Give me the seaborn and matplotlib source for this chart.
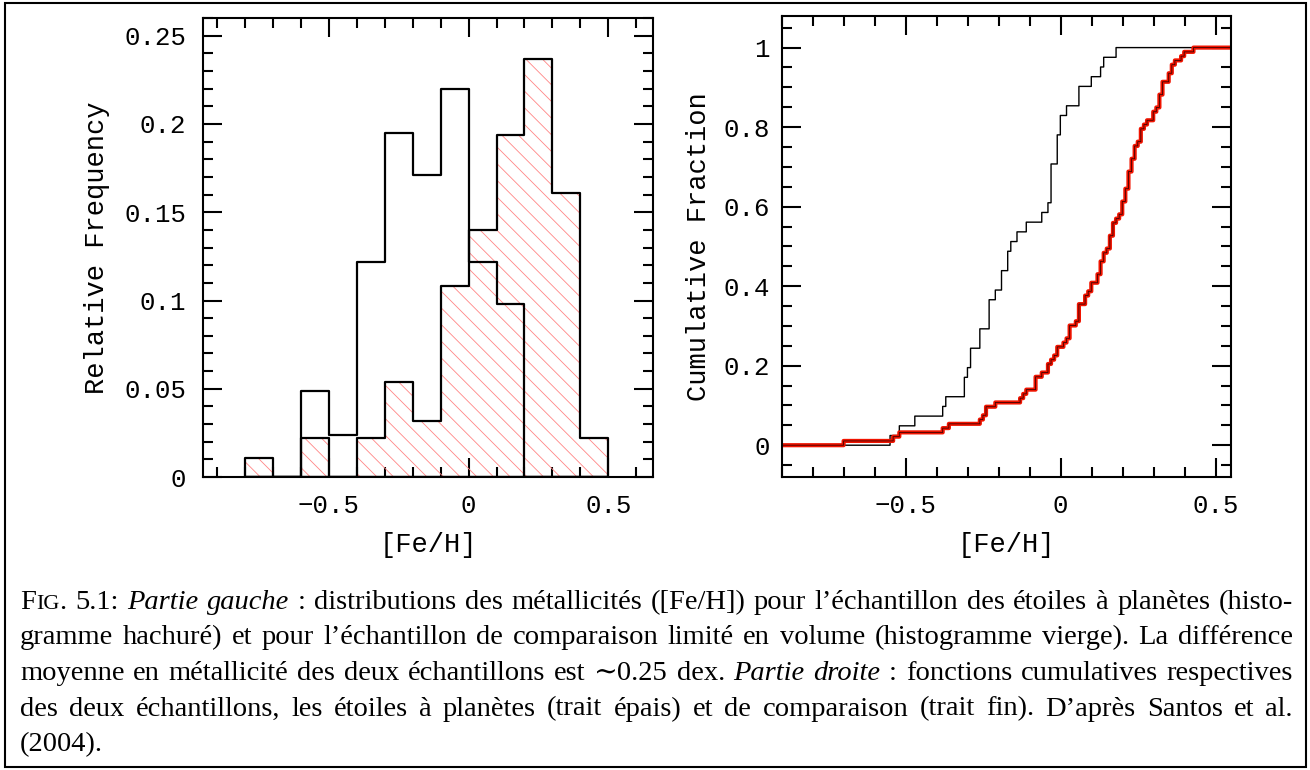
import numpy as np, matplotlib
matplotlib.use('Agg')
import matplotlib.pyplot as plt
import seaborn as sns
from matplotlib.ticker import MultipleLocator, FuncFormatter
from matplotlib.patches import Rectangle

sns.set_style('ticks')
plt.rcParams['font.family'] = ['Liberation Mono', 'DejaVu Sans Mono']
plt.rcParams.update({'text.color': 'black', 'axes.labelcolor': 'black',
                     'xtick.color': 'black', 'ytick.color': 'black',
                     'axes.edgecolor': 'black', 'axes.linewidth': 1.5,
                     'hatch.linewidth': 0.6})

# ── data ──────────────────────────────────────────────────────────────────────
# left panel: relative frequency per 0.1 dex bin of [Fe/H]
BIN_EDGES   = [-0.8, -0.7, -0.6, -0.5, -0.4, -0.3, -0.2, -0.1, 0.0, 0.1, 0.2, 0.3, 0.4, 0.5]
FREQ_PLANET = [0.011, 0.0, 0.022, 0.0, 0.022, 0.054, 0.032, 0.108, 0.140, 0.194, 0.237, 0.161, 0.022]
FREQ_COMPAR = [0.0, 0.0, 0.049, 0.024, 0.122, 0.195, 0.171, 0.220, 0.122, 0.098, 0.0, 0.0, 0.0]

# right panel: individual [Fe/H] values (steps of the cumulative curves)
FEH_COMPAR = [-0.55, -0.52, -0.47, -0.38, -0.37, -0.31, -0.31, -0.30, -0.29, -0.29,
              -0.26, -0.26, -0.23, -0.23, -0.23, -0.21, -0.19, -0.19, -0.17, -0.17,
              -0.16, -0.14, -0.11, -0.06, -0.04, -0.03, -0.03, -0.03, -0.03, -0.01,
              -0.01, -0.01, 0.00, 0.00, 0.02, 0.06, 0.06, 0.10, 0.13, 0.14, 0.18]
FEH_PLANET = [-0.70, -0.54, -0.52, -0.38, -0.36, -0.26, -0.25, -0.24, -0.24, -0.21,
              -0.13, -0.12, -0.11, -0.08, -0.08, -0.08, -0.06, -0.04, -0.04, -0.03,
              -0.02, -0.01, -0.01, 0.01, 0.02, 0.03, 0.03, 0.03, 0.05, 0.06,
              0.06, 0.06, 0.06, 0.08, 0.08, 0.09, 0.10, 0.10, 0.12, 0.12,
              0.13, 0.13, 0.13, 0.14, 0.14, 0.15, 0.16, 0.16, 0.16, 0.17,
              0.17, 0.17, 0.18, 0.19, 0.20, 0.20, 0.20, 0.21, 0.21, 0.21,
              0.22, 0.22, 0.22, 0.22, 0.23, 0.23, 0.23, 0.24, 0.24, 0.24,
              0.25, 0.26, 0.26, 0.26, 0.27, 0.28, 0.30, 0.30, 0.31, 0.32,
              0.32, 0.32, 0.33, 0.33, 0.33, 0.35, 0.35, 0.36, 0.36, 0.37,
              0.39, 0.40, 0.43]

CAPTION = [
    [('F', 'n'), ('IG', 'sc'), ('. 5.1: ', 'n'), ('Partie gauche', 'i'),
     (' : distributions des métallicités ([Fe/H]) pour l’échantillon des étoiles à planètes (histo-', 'n')],
    [('gramme hachuré) et pour l’échantillon de comparaison limité en volume (histogramme vierge). La différence', 'n')],
    [('moyenne en métallicité des deux échantillons est ∼0.25 dex. ', 'n'), ('Partie droite', 'i'),
     (' : fonctions cumulatives respectives', 'n')],
    [('des deux échantillons, les étoiles à planètes (trait épais) et de comparaison (trait fin). D’après Santos et al.', 'n')],
    [('(2004).', 'n')],
]

TICK_FS, LABEL_FS = 18.5, 19.5
fmt = FuncFormatter(lambda v, p: ('%g' % (0 if abs(v) < 1e-9 else v)).replace('-', '\u2212'))

def style_axes(ax, xmaj, xmin, ymaj, ymin, ypad):
    ax.xaxis.set_major_locator(MultipleLocator(xmaj))
    ax.xaxis.set_minor_locator(MultipleLocator(xmin))
    ax.yaxis.set_major_locator(MultipleLocator(ymaj))
    ax.yaxis.set_minor_locator(MultipleLocator(ymin))
    ax.xaxis.set_major_formatter(fmt); ax.yaxis.set_major_formatter(fmt)
    ax.tick_params(which='both', direction='in', top=True, right=True, width=1.5)
    ax.tick_params(which='major', length=14, labelsize=TICK_FS)
    ax.tick_params(which='minor', length=7.5)
    ax.tick_params(axis='x', pad=12)
    ax.tick_params(axis='y', pad=ypad)
    for s in ax.spines.values():
        s.set_linewidth(1.5)

fig = plt.figure(figsize=(13.1, 7.7), dpi=100)
ax1 = fig.add_axes([0.155, 0.3805, 0.3435, 0.596])
ax2 = fig.add_axes([0.597, 0.3805, 0.3427, 0.599])

# ── left: histograms ─────────────────────────────────────────────────────────
edges   = np.array(BIN_EDGES)
centers = edges[:-1] + np.diff(edges) / 2
sns.histplot(x=centers, weights=FREQ_PLANET, bins=BIN_EDGES, element='step', fill=True,
             color='#ff8585', facecolor='none', edgecolor='#ff8585', hatch='\\\\',
             linewidth=0, alpha=1, ax=ax1)
sns.histplot(x=centers, weights=FREQ_PLANET, bins=BIN_EDGES, element='step', fill=True,
             color='black', facecolor='none', edgecolor='black', linewidth=1.6,
             alpha=1, ax=ax1)
sns.histplot(x=centers, weights=FREQ_COMPAR, bins=BIN_EDGES, element='step', fill=True,
             color='black', facecolor='none', edgecolor='black', linewidth=1.6,
             alpha=1, ax=ax1)
ax1.set_xlim(-0.95, 0.66); ax1.set_ylim(0, 0.26)
style_axes(ax1, 0.5, 0.1, 0.05, 0.01, 12)
ax1.set_xlabel('[Fe/H]', fontsize=LABEL_FS)
ax1.set_ylabel('Relative Frequency', fontsize=LABEL_FS)
ax1.xaxis.set_label_coords(0.5, -0.12)
ax1.yaxis.set_label_coords(-0.207, 0.5)

# ── right: cumulative distributions ──────────────────────────────────────────
cum_kw = dict(binwidth=0.0025, binrange=(-0.90125, 0.55125), cumulative=True,
              stat='proportion', element='step', fill=False, ax=ax2)
sns.histplot(x=FEH_COMPAR, color='black', linewidth=1.0, **cum_kw)
sns.histplot(x=FEH_PLANET, color='#f01400', linewidth=3.0, **cum_kw)
sns.histplot(x=FEH_PLANET, color='#400000', linewidth=0.6, **cum_kw)
ax2.set_xlim(-0.9, 0.55); ax2.set_ylim(-0.08, 1.08)
style_axes(ax2, 0.5, 0.1, 0.2, 0.05, 9)
ax2.set_xlabel('[Fe/H]', fontsize=LABEL_FS)
ax2.set_ylabel('Cumulative Fraction', fontsize=LABEL_FS)
ax2.xaxis.set_label_coords(0.5, -0.12)
ax2.yaxis.set_label_coords(-0.156, 0.5)

# ── frame and caption ────────────────────────────────────────────────────────
fig.patches.append(Rectangle((5 / 1310, 3 / 770), 1301 / 1310, 764 / 770,
                             transform=fig.transFigure, fill=False, lw=1.5, ec='black'))

renderer = fig.canvas.get_renderer()
W, H = fig.bbox.width, fig.bbox.height
CAP_FS = 20.5
CAP_FONT = ['Liberation Serif', 'DejaVu Serif']
X0, X1 = 20, 1293

def piece(txt, st, y):
    kw = dict(family=CAP_FONT, size=CAP_FS, va='baseline', ha='left')
    if st == 'i':
        kw['style'] = 'italic'
    if st == 'sc':
        kw['size'] = CAP_FS * 0.78
    return fig.text(0, 1 - y / H, txt, **kw)

for k, runs in enumerate(CAPTION):
    y = 609 + 35.5 * k
    words = [[]]
    for txt, st in runs:
        for j, part in enumerate(txt.split(' ')):
            if j > 0:
                words.append([])
            if part:
                words[-1].append((part, st))
    words = [w for w in words if w]
    arts = [[piece(t, st, y) for t, st in w] for w in words]
    widths = [[a.get_window_extent(renderer).width for a in w] for w in arts]
    total = sum(sum(ws) for ws in widths)
    if k < len(CAPTION) - 1 and len(words) > 1:
        gap = (X1 - X0 - total) / (len(words) - 1)
    else:
        gap = CAP_FS * 0.25 * 100 / 72
    x = X0
    for w, ws in zip(arts, widths):
        for a, wd in zip(w, ws):
            a.set_x(x / W); x += wd
        x += gap

fig.savefig('out.png', dpi=100)
